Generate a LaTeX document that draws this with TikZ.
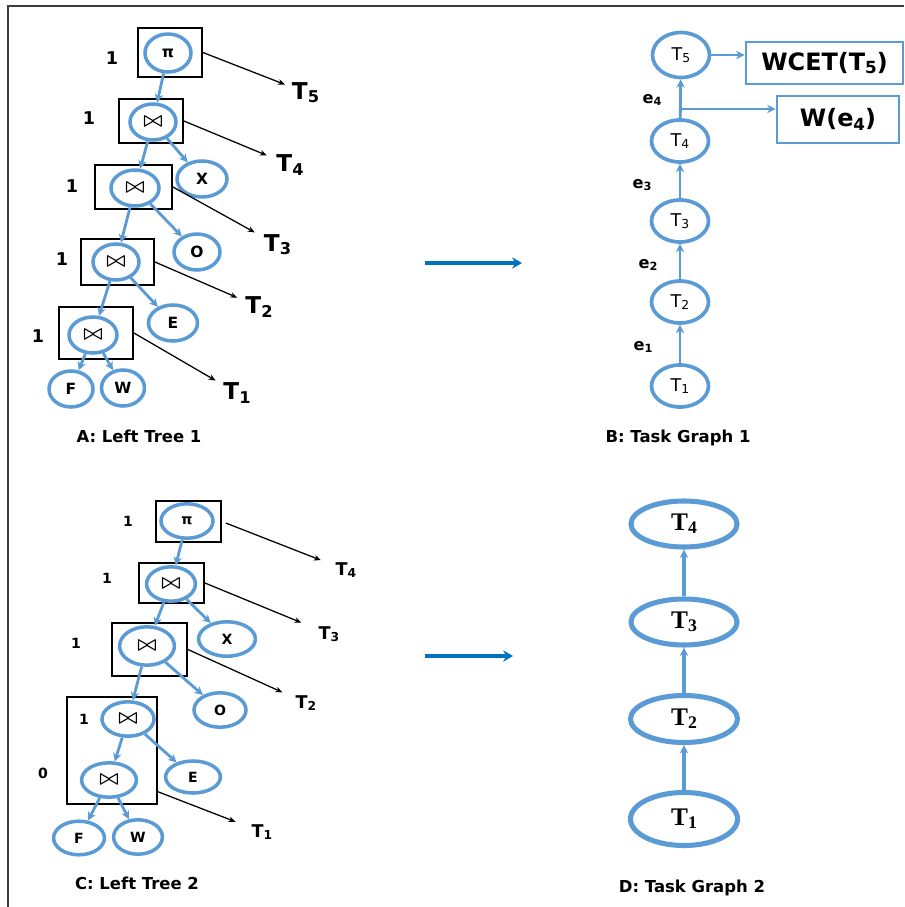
\documentclass[tikz,border=0pt]{standalone}
\usepackage{amsmath}
\usepackage{fontspec}
\setmainfont{Liberation Serif}
\setsansfont{DejaVu Sans}
\usepackage{tikz}
\usetikzlibrary{shapes, positioning}
\usetikzlibrary{arrows.meta}
\usepackage{color}
\definecolor{nodeblue}{RGB}{91,155,213}
\definecolor{arrowblue}{RGB}{0,112,192}
\definecolor{framegray}{RGB}{60,60,60}

% join operator used inside the plan nodes
\newcommand{\joinop}{{\fontsize{14}{14}\selectfont$\boldsymbol{\bowtie}$}}
% task name with a small lowered index
\newcommand{\tsub}[2]{#1\raisebox{-0.25ex}{\scalebox{0.7}{#2}}}

\tikzset{
	op/.style={ellipse, draw=nodeblue, line width=2.5pt, fill=white, inner sep=0pt,
		minimum width=1.15cm, minimum height=0.9cm, font=\sffamily\bfseries\fontsize{11}{11}\selectfont},
	opc/.style={op, minimum width=1.3cm, minimum height=0.86cm, font=\sffamily\bfseries\fontsize{10}{10}\selectfont},
	opbox/.style={rectangle, draw=black, line width=1.3pt, inner sep=0pt},
	edge/.style={draw=nodeblue, line width=2pt, -{Stealth[length=6pt, width=6pt]}},
	ptr/.style={draw=black, line width=0.9pt, -{Stealth[length=5pt, width=4pt]}},
	wt/.style={font=\sffamily\bfseries\fontsize{12.5}{12.5}\selectfont},
	wtc/.style={font=\sffamily\bfseries\fontsize{10}{10}\selectfont},
	tlab/.style={inner sep=1pt, font=\sffamily\bfseries\fontsize{16.5}{16.5}\selectfont},
	tlabc/.style={inner sep=1pt, font=\sffamily\bfseries\fontsize{12.5}{12.5}\selectfont},
	task/.style={ellipse, draw=nodeblue, line width=2.6pt, inner sep=0pt,
		minimum width=1.425cm, minimum height=1.05cm, font=\sffamily\fontsize{12.5}{12.5}\selectfont},
	bigtask/.style={ellipse, draw=nodeblue, line width=3.6pt, inner sep=0pt,
		minimum width=2.65cm, minimum height=1.15cm, font=\bfseries\fontsize{18}{18}\selectfont},
	infobox/.style={rectangle, draw=nodeblue, line width=2pt, inner sep=0pt,
		font=\sffamily\bfseries\fontsize{17}{17}\selectfont},
	elab/.style={font=\sffamily\bfseries\fontsize{11.5}{11.5}\selectfont},
	caption/.style={font=\sffamily\bfseries\fontsize{11.7}{11.7}\selectfont},
	bigarrow/.style={draw=arrowblue, line width=2.3pt, -{Stealth[length=7pt, width=8pt]}}
}

\begin{document}
\begin{tikzpicture}[x=0.025cm, y=-0.025cm, >=stealth]
	\useasboundingbox (0,0) rectangle (904,907);

	% outer frame (top and left side only)
	\draw[framegray, line width=1.2pt] (8,907) -- (8,6) -- (904,6);

	% ---------- A: left tree 1 ----------
	% task boxes first so the ellipses sit on top
	\node[opbox, minimum width=1.6cm, minimum height=1.225cm] (bA5) at (170,52.5) {};
	\node[opbox, minimum width=1.6cm, minimum height=1.1cm] (bA4) at (151,121) {};
	\node[opbox, minimum width=1.925cm, minimum height=1.1cm] (bA3) at (133.5,187) {};
	\node[opbox, minimum width=1.825cm, minimum height=1.15cm] (bA2) at (117.5,262) {};
	\node[opbox, minimum width=1.85cm, minimum height=1.3cm] (bA1) at (96,333) {};

	% operators and relations
	\node[op, minimum height=0.95cm] (piA) at (168,53) {π};
	\node[op] (jA4) at (153,122) {\joinop};
	\node[op, minimum width=1.25cm] (xA) at (202,179) {X};
	\node[op, minimum width=1.2cm] (jA3) at (135,188) {\joinop};
	\node[op] (oA) at (197,252) {O};
	\node[op] (jA2) at (116,262) {\joinop};
	\node[op, minimum width=1.225cm] (eA) at (173,323) {E};
	\node[op, minimum width=1.2cm] (jA1) at (93,335) {\joinop};
	\node[op, minimum width=1.1cm] (fA) at (71,389) {F};
	\node[op, minimum width=1.075cm] (wA) at (123,388) {W};

	% tree edges
	\draw[edge] (piA) -- (jA4);
	\draw[edge] (jA4) -- (jA3);
	\draw[edge] (jA4) -- (xA);
	\draw[edge] (jA3) -- (jA2);
	\draw[edge] (jA3) -- (oA);
	\draw[edge] (jA2) -- (jA1);
	\draw[edge] (jA2) -- (eA);
	\draw[edge] (jA1) -- (fA);
	\draw[edge] (jA1) -- (wA);

	% weights beside the boxes
	\node[wt] (nA5) at (112,58) {1};
	\node[wt] (nA4) at (89,118) {1};
	\node[wt] (nA3) at (72,186) {1};
	\node[wt] (nA2) at (62,259) {1};
	\node[wt] (nA1) at (38,336) {1};

	% task labels and pointers
	\node[tlab] (tA5) at (305.5,92.5) {\tsub{T}{5}};
	\node[tlab] (tA4) at (290,165) {\tsub{T}{4}};
	\node[tlab] (tA3) at (277.5,245) {\tsub{T}{3}};
	\node[tlab] (tA2) at (259,307) {\tsub{T}{2}};
	\node[tlab] (tA1) at (237,393) {\tsub{T}{1}};
	\draw[ptr, shorten >=4pt] (bA5.east) -- (tA5);
	\draw[ptr, shorten >=6pt] (bA4.east) -- (tA4);
	\draw[ptr, shorten >=6pt] (bA3.east) -- (tA3);
	\draw[ptr, shorten >=5pt] (bA2.east) -- (tA2);
	\draw[ptr, shorten >=5pt] (bA1.east) -- (tA1);

	\node[caption] (capA) at (139,436) {A: Left Tree 1};

	% ---------- B: task graph 1 ----------
	\node[task, minimum height=1.125cm] (gT5) at (681,55) {\tsub{T}{5}};
	\node[task] (gT4) at (680,141) {\tsub{T}{4}};
	\node[task] (gT3) at (680,221) {\tsub{T}{3}};
	\node[task] (gT2) at (680,302) {\tsub{T}{2}};
	\node[task] (gT1) at (680,386) {\tsub{T}{1}};

	\draw[edge] (gT1) -- (gT2);
	\draw[edge] (gT2) -- (gT3);
	\draw[edge] (gT3) -- (gT4);
	\draw[edge] (gT4) -- (gT5);

	\node[elab] (e1) at (643,347) {\tsub{e}{1}};
	\node[elab] (e2) at (648,265) {\tsub{e}{2}};
	\node[elab] (e3) at (642,185) {\tsub{e}{3}};
	\node[elab] (e4) at (652,100) {\tsub{e}{4}};

	% cost boxes
	\node[infobox, minimum width=3.925cm, minimum height=1.05cm] (wcet) at (824.5,63) {WCET(\tsub{T}{5})};
	\node[infobox, minimum width=3.05cm, minimum height=1.175cm] (we4) at (838,119.5) {W(\tsub{e}{4})};
	\coordinate (fork) at (680,109);
	\draw[edge] (gT5) -- (gT5 -| wcet.west);
	\draw[edge] (fork) -- (fork -| we4.west);

	\node[caption] (capB) at (678,438) {B: Task Graph 1};

	% arrows between the panels
	\coordinate (fromA) at (425,263);
	\coordinate (toB) at (522,263);
	\coordinate (fromC) at (425,656);
	\coordinate (toD) at (513,656);
	\draw[bigarrow] (fromA) -- (toB);
	\draw[bigarrow] (fromC) -- (toD);

	% ---------- C: left tree 2 ----------
	\node[opbox, minimum width=1.625cm, minimum height=1.025cm] (bC4) at (188.5,521.5) {};
	\node[opbox, minimum width=1.625cm, minimum height=1.0cm] (bC3) at (171.5,583) {};
	\node[opbox, minimum width=1.875cm, minimum height=1.325cm] (bC2) at (149.5,649.5) {};
	\node[opbox, minimum width=2.25cm, minimum height=2.675cm] (bC1) at (112,750.5) {};

	\node[opc] (piC) at (187,521) {π};
	\node[opc, minimum width=1.22cm] (jC4) at (171,584) {\joinop};
	\node[opc, minimum width=1.42cm] (xC) at (227,639) {X};
	\node[opc, minimum width=1.37cm, minimum height=0.96cm] (jC3) at (147,646) {\joinop};
	\node[opc] (oC) at (220,710) {O};
	\node[opc, minimum width=1.3cm] (jC2) at (128,719) {\joinop};
	\node[opc, minimum width=1.37cm, minimum height=0.8cm] (eC) at (193,777) {E};
	\node[opc, minimum width=1.37cm] (jC1) at (109,780) {\joinop};
	\node[opc, minimum width=1.27cm, minimum height=0.84cm] (fC) at (79,838) {F};
	\node[opc, minimum width=1.22cm] (wC) at (138,837) {W};

	\draw[edge] (piC) -- (jC4);
	\draw[edge] (jC4) -- (jC3);
	\draw[edge] (jC4) -- (xC);
	\draw[edge] (jC3) -- (jC2);
	\draw[edge] (jC3) -- (oC);
	\draw[edge] (jC2) -- (jC1);
	\draw[edge] (jC2) -- (eC);
	\draw[edge] (jC1) -- (fC);
	\draw[edge] (jC1) -- (wC);

	\node[wtc] (nC5) at (128,521) {1};
	\node[wtc] (nC4) at (107,578) {1};
	\node[wtc] (nC3) at (76,643) {1};
	\node[wtc] (nC2) at (84,719) {1};
	\node[wtc] (nC1) at (43,773) {0};

	\node[tlabc] (tC4) at (346,570) {\tsub{T}{4}};
	\node[tlabc] (tC3) at (329,634) {\tsub{T}{3}};
	\node[tlabc] (tC2) at (306,703) {\tsub{T}{2}};
	\node[tlabc] (tC1) at (262,832) {\tsub{T}{1}};
	\draw[ptr, shorten <=3pt, shorten >=10pt] (bC4.east) -- (tC4);
	\draw[ptr, shorten >=12pt] (bC3.east) -- (tC3);
	\draw[ptr, shorten >=9pt] (bC2.east) -- (tC2);
	\draw[ptr, shorten >=11pt] ([yshift=0.33cm]bC1.south east) -- (tC1);

	\node[caption] (capC) at (137,883) {C: Left Tree 2};

	% ---------- D: task graph 2 ----------
	\node[bigtask] (dT4) at (684,524) {\tsub{T}{4}};
	\node[bigtask] (dT3) at (684,622) {\tsub{T}{3}};
	\node[bigtask, minimum width=2.675cm, minimum height=1.175cm] (dT2) at (684,719) {\tsub{T}{2}};
	\node[bigtask, minimum width=2.675cm, minimum height=1.325cm] (dT1) at (684,819) {\tsub{T}{1}};

	\draw[edge, line width=2.8pt] (dT1) -- (dT2);
	\draw[edge, line width=2.8pt] (dT2) -- (dT3);
	\draw[edge, line width=2.8pt] (dT3) -- (dT4);

	\node[caption] (capD) at (692,888) {D: Task Graph 2};
\end{tikzpicture}
\end{document}
